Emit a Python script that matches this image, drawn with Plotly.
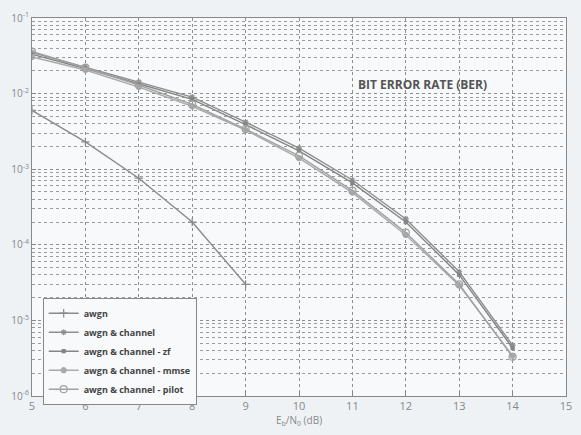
import plotly.graph_objects as go

ebno_awgn = [5, 6, 7, 8, 9]
ber_awgn = [6.0e-3, 2.3e-3, 7.6e-4, 2.0e-4, 3.0e-5]

ebno = [5, 6, 7, 8, 9, 10, 11, 12, 13, 14]
ber_channel = [3.5e-2, 2.25e-2, 1.42e-2, 9.0e-3, 4.2e-3, 1.9e-3, 7.2e-4, 2.2e-4, 4.4e-5, 4.7e-6]
ber_zf = [3.3e-2, 2.15e-2, 1.35e-2, 8.4e-3, 3.9e-3, 1.75e-3, 6.6e-4, 2.0e-4, 4.0e-5, 4.3e-6]
ber_mmse = [3.05e-2, 2.05e-2, 1.22e-2, 6.8e-3, 3.3e-3, 1.4e-3, 4.9e-4, 1.35e-4, 2.9e-5, 3.4e-6]
ber_pilot = [3.6e-2, 2.2e-2, 1.3e-2, 7.2e-3, 3.4e-3, 1.5e-3, 5.2e-4, 1.45e-4, 3.0e-5, 3.3e-6]

names = ["awgn", "awgn & channel", "awgn & channel - zf", "awgn & channel - mmse", "awgn & channel - pilot"]
ytickvals = [1e-6, 1e-5, 1e-4, 1e-3, 1e-2, 1e-1]
yticktext = ["10<sup>-6</sup>", "10<sup>-5</sup>", "10<sup>-4</sup>", "10<sup>-3</sup>", "10<sup>-2</sup>", "10<sup>-1</sup>"]
yminorvals = [m * d for d in [1e-6, 1e-5, 1e-4, 1e-3, 1e-2] for m in range(2, 10)]
xtickvals = list(range(5, 16))

fig = go.Figure()
series = [
    (ebno_awgn, ber_awgn, "#8a8a8a", "cross-thin-open", 6),
    (ebno, ber_channel, "#8e8e8e", "asterisk-open", 5),
    (ebno, ber_zf, "#858585", "square", 3),
    (ebno, ber_mmse, "#aaaaaa", "circle", 5),
    (ebno, ber_pilot, "#a2a2a2", "circle-open", 7),
]
for (xs, ys, col, sym, sz), nm in zip(series, names):
    fig.add_trace(go.Scatter(
        x=xs, y=ys, name=nm, mode="lines+markers",
        line=dict(color=col, width=1.4),
        marker=dict(symbol=sym, size=sz, color=col, line=dict(color=col, width=1.2)),
    ))

fig.add_annotation(
    text="<b>BIT ERROR RATE (BER)</b>", x=0.731, y=0.823, xref="paper", yref="paper",
    xanchor="center", yanchor="middle",
    showarrow=False, font=dict(family="Open Sans", size=12, color="#555555"),
)

fig.update_layout(
    width=581, height=435,
    margin=dict(l=32, r=9, t=18, b=39),
    paper_bgcolor="#eef2f5",
    plot_bgcolor="#f7f9fa",
    showlegend=True,
    legend=dict(
        x=0.02, y=0.26, xanchor="left", yanchor="top",
        bgcolor="#f7f9fa", bordercolor="#888888", borderwidth=1,
        font=dict(family="Open Sans", size=9, color="#444444", weight="bold"),
        tracegroupgap=0, itemwidth=30,
    ),
    xaxis=dict(
        range=[5, 15], tickvals=xtickvals,
        showgrid=True, gridcolor="#8e8e8e", griddash="dot", gridwidth=1,
        showline=True, linecolor="#888888", mirror=True, linewidth=1,
        ticks="inside", ticklen=4, tickcolor="#888888",
        tickfont=dict(family="Open Sans", size=11, color="#888888"),
        title=dict(text="E<sub>b</sub>/N<sub>0</sub> (dB)", standoff=4,
                   font=dict(family="Open Sans", size=10, color="#888888")),
        zeroline=False,
    ),
    yaxis=dict(
        type="log", range=[-6, -1], tickvals=ytickvals, ticktext=yticktext,
        showgrid=True, gridcolor="#8e8e8e", griddash="dot", gridwidth=1,
        showline=True, linecolor="#888888", mirror=True, linewidth=1,
        ticks="inside", ticklen=4, tickcolor="#888888",
        tickfont=dict(family="Open Sans", size=10, color="#888888"),
        zeroline=False, layer="above traces",
    ),
    yaxis2=dict(
        type="log", range=[-6, -1], overlaying="y", side="left",
        tickvals=yminorvals, showticklabels=False,
        showgrid=True, gridcolor="#9c9c9c", griddash="dot", gridwidth=1,
        ticks="inside", ticklen=2, tickcolor="#999999",
        showline=False, zeroline=False,
    ),
)
fig.add_trace(go.Scatter(x=[], y=[], yaxis="y2", showlegend=False, hoverinfo="skip"))

fig.write_html("out.html")
